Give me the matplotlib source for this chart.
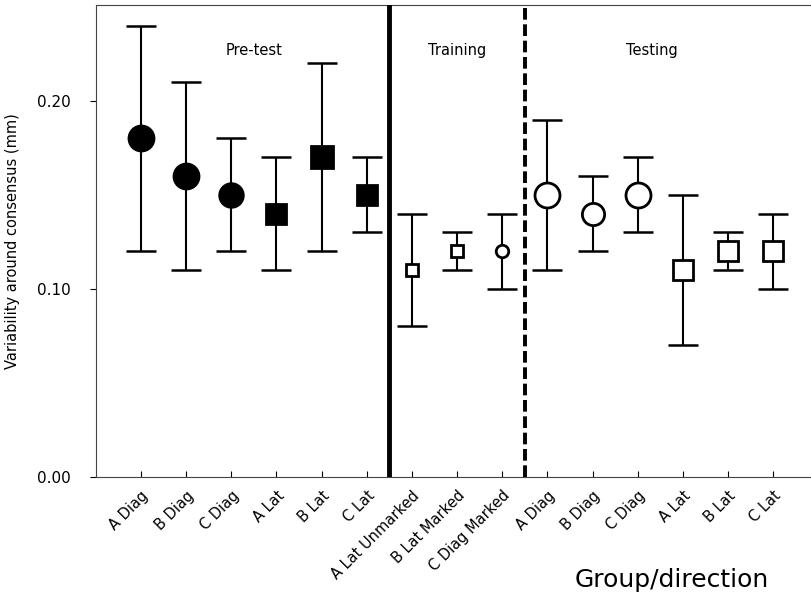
import matplotlib
matplotlib.use("Agg")
import matplotlib.pyplot as plt
import numpy as np

# data
labels = ['A Diag', 'B Diag', 'C Diag', 'A Lat', 'B Lat', 'C Lat',
          'A Lat Unmarked', 'B Lat Marked', 'C Diag Marked',
          'A Diag', 'B Diag', 'C Diag', 'A Lat', 'B Lat', 'C Lat']
means = [0.18, 0.16, 0.15, 0.14, 0.17, 0.15,
         0.11, 0.12, 0.12,
         0.15, 0.14, 0.15, 0.11, 0.12, 0.12]
lows = [0.12, 0.11, 0.12, 0.11, 0.12, 0.13,
        0.08, 0.11, 0.10,
        0.11, 0.12, 0.13, 0.07, 0.11, 0.10]
highs = [0.24, 0.21, 0.18, 0.17, 0.22, 0.17,
         0.14, 0.13, 0.14,
         0.19, 0.16, 0.17, 0.15, 0.13, 0.14]
markers = ['o', 'o', 'o', 's', 's', 's',
           's', 's', 'o',
           'o', 'o', 'o', 's', 's', 's']
filled = [True] * 6 + [False] * 9
msizes = [18, 18, 17, 15, 16, 15,
          8, 8, 9,
          18, 16, 18, 15, 14, 14]
phases = ['Pre-test', 'Training', 'Testing']
phase_x = [3.5, 8.0, 12.3]

fig = plt.figure(figsize=(8.12, 6.06), dpi=100)
ax = fig.add_axes([0.118, 0.213, 0.89, 0.779])

x = np.arange(1, len(labels) + 1)
for i in range(len(labels)):
    ax.errorbar(x[i], means[i],
                yerr=[[means[i] - lows[i]], [highs[i] - means[i]]],
                fmt='none', ecolor='black', elinewidth=1.5,
                capsize=11, capthick=1.8, zorder=2)
    ax.plot(x[i], means[i], marker=markers[i], markersize=msizes[i],
            markerfacecolor='black' if filled[i] else 'white',
            markeredgecolor='black', markeredgewidth=2.0,
            linestyle='none', zorder=3)

ax.axvline(6.5, color='black', linewidth=3.5, zorder=4)
ax.axvline(9.5, color='black', linewidth=2.8, linestyle=(0, (3, 1.2)), zorder=4)

for name, px in zip(phases, phase_x):
    ax.text(px, 0.2265, name, ha='center', va='center', fontsize=10.5)

ax.set_xlim(0, 16)
ax.set_ylim(0, 0.251)
ax.set_yticks([0.0, 0.10, 0.20])
ax.set_yticklabels(['0.00', '0.10', '0.20'], fontsize=11)
ax.set_xticks(x)
ax.set_xticklabels(labels, rotation=45, ha='right', rotation_mode='anchor',
                   fontsize=10.5)
ax.tick_params(axis='x', direction='in', length=4, width=0.8, pad=8)
ax.tick_params(axis='y', direction='out', length=4, width=0.8, pad=14)

for s in ['left', 'bottom', 'top']:
    ax.spines[s].set_linewidth(0.8)
    ax.spines[s].set_color('#444444')
ax.spines['right'].set_visible(False)

ax.set_ylabel('Variability around consensus (mm)', fontsize=10.5, labelpad=12)
fig.text(0.827, 0.043, 'Group/direction', ha='center', va='center', fontsize=18)

fig.savefig('out.png', dpi=100)
